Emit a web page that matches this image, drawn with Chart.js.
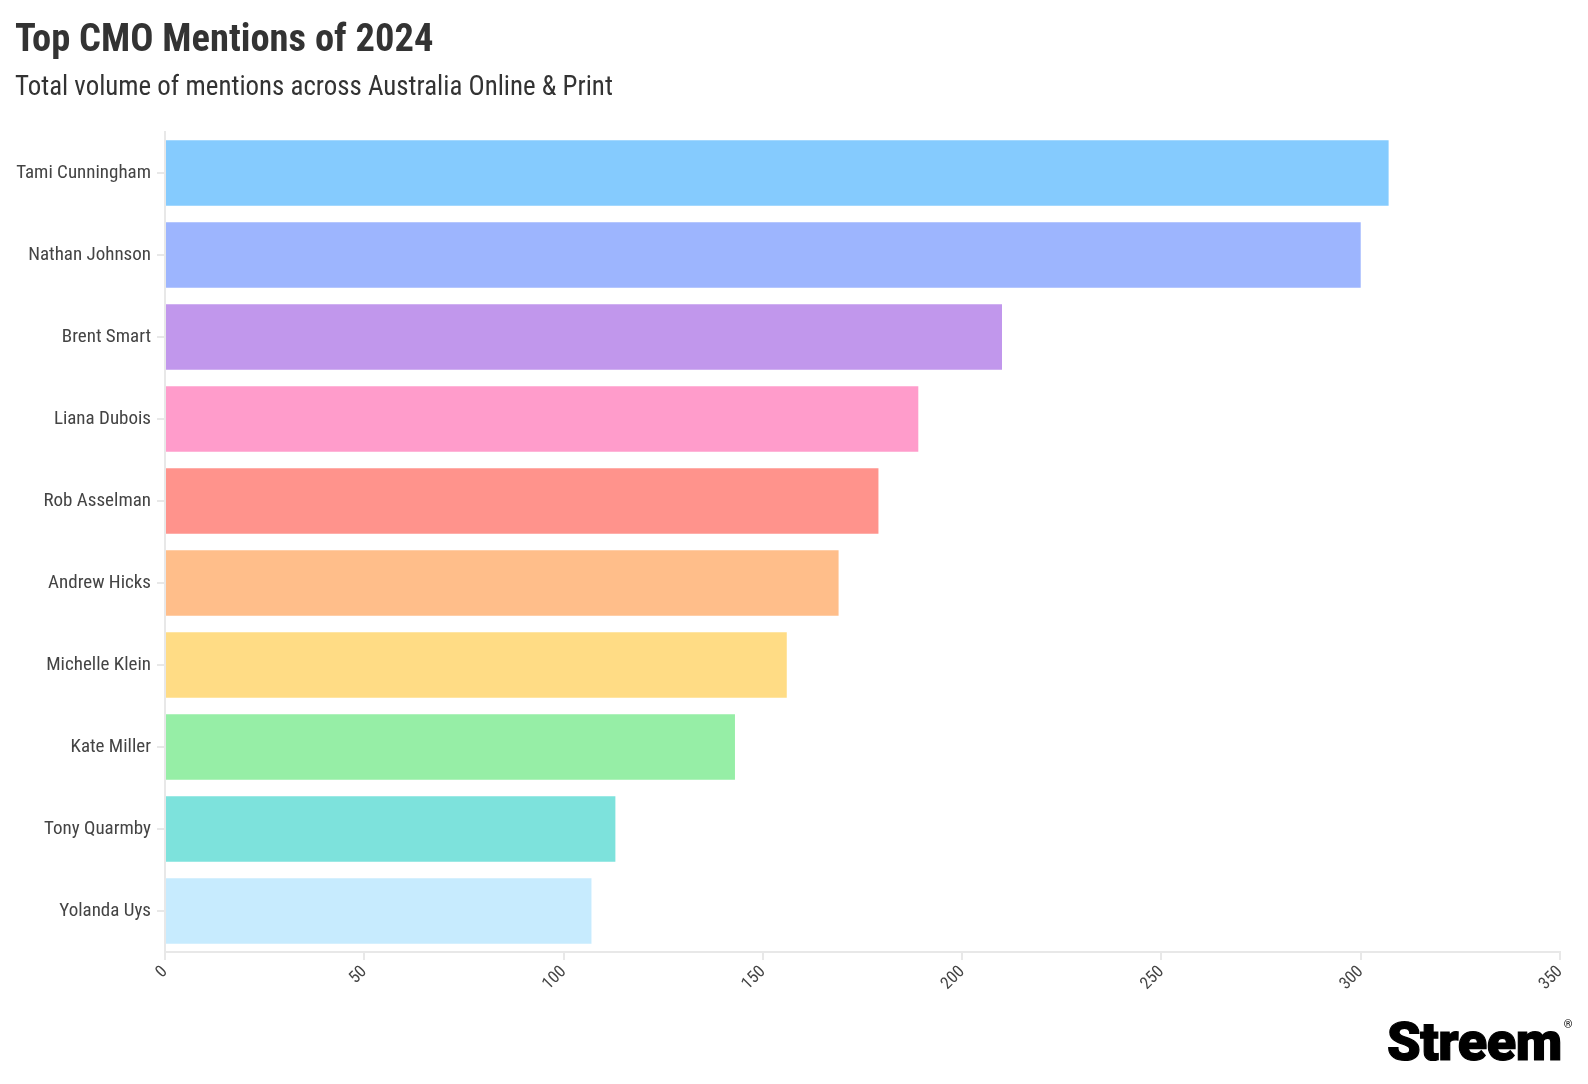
<!DOCTYPE html>
<html>
<head>
<meta charset="utf-8">
<script src="https://cdn.jsdelivr.net/npm/chart.js@4.4.1/dist/chart.umd.min.js"></script>
<style>
  html, body { margin: 0; padding: 0; background: #fff; }
  body { width: 1588px; height: 1084px; position: relative; overflow: hidden; }
  #wrap { position: absolute; left: 0; top: 0; width: 1588px; height: 1084px; }
  .t { position: absolute; font-family: 'Roboto Condensed', 'Liberation Sans Narrow', 'DejaVu Sans Condensed', sans-serif; color: #333; white-space: nowrap; }
  #title { left: 15px; top: 15px; font-size: 38.5px; font-weight: bold; }
  #subtitle { left: 15px; top: 70px; font-size: 26.9px; }
  #logo { left: 1387px; top: 1010px; font-size: 54px; font-weight: 900; color: #000; font-family: 'Roboto', 'Liberation Sans', Arial, sans-serif; letter-spacing: -0.5px; -webkit-text-stroke: 1.2px #000; }
  #logo sup { font-size: 11px; font-weight: normal; -webkit-text-stroke: 0; vertical-align: top; position: relative; top: 8px; margin-left: 2px; }
</style>
</head>
<body>
<div id="wrap"><canvas id="c" width="1588" height="1084"></canvas></div>
<div class="t" id="title">Top CMO Mentions of 2024</div>
<div class="t" id="subtitle">Total volume of mentions across Australia Online &amp; Print</div>
<div class="t" id="logo">Streem<sup>®</sup></div>
<script>
const categories = ['Tami Cunningham', 'Nathan Johnson', 'Brent Smart', 'Liana Dubois', 'Rob Asselman', 'Andrew Hicks', 'Michelle Klein', 'Kate Miller', 'Tony Quarmby', 'Yolanda Uys'];
const mentions = [307, 300, 210, 189, 179, 169, 156, 143, 113, 107];
const barColors = ['#85CBFE', '#9DB5FE', '#C197EC', '#FF9CCB', '#FF938C', '#FFBE8A', '#FFDC85', '#96EEA6', '#7DE2DC', '#C7EBFE'];
const xTicks = [0, 50, 100, 150, 200, 250, 300, 350];

const FONT = "'Roboto Condensed', 'Liberation Sans Narrow', 'DejaVu Sans Condensed', sans-serif";

new Chart(document.getElementById('c'), {
  type: 'bar',
  data: {
    labels: categories,
    datasets: [{
      data: mentions,
      backgroundColor: barColors,
      borderWidth: 0,
      barPercentage: 0.8,
      categoryPercentage: 1.0
    }]
  },
  options: {
    indexAxis: 'y',
    responsive: false,
    animation: false,
    layout: { padding: { top: 132, right: 28, bottom: 0, left: 0 } },
    plugins: { legend: { display: false }, tooltip: { enabled: false }, title: { display: false } },
    scales: {
      x: {
        type: 'linear',
        min: 0, max: 350,
        afterBuildTicks: (s) => { s.ticks = xTicks.map(v => ({ value: v })); },
        grid: { display: true, drawOnChartArea: false, drawTicks: true, tickLength: 8, color: '#e8e8e8', lineWidth: 2 },
        border: { display: true, color: '#e8e8e8', width: 2 },
        ticks: { maxRotation: 45, minRotation: 45, color: '#444', font: { family: FONT, size: 17 }, padding: 2 },
        afterFit: (s) => { s.height = 1084 - 952; }
      },
      y: {
        grid: { display: true, offset: false, drawOnChartArea: false, drawTicks: true, tickLength: 8, color: '#e8e8e8', lineWidth: 2 },
        border: { display: true, color: '#e8e8e8', width: 2 },
        ticks: { color: '#444', font: { family: FONT, size: 19 }, padding: 6 },
        afterFit: (s) => { s.width = 165; }
      }
    }
  }
});
</script>
</body>
</html>
